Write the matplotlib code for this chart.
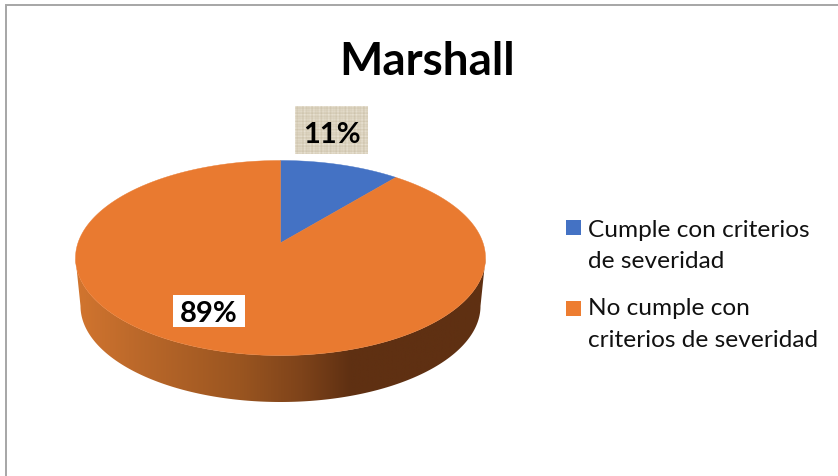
import numpy as np
import matplotlib
matplotlib.use("Agg")
import matplotlib.pyplot as plt
from matplotlib.patches import Polygon, Rectangle
from matplotlib.colors import LinearSegmentedColormap

title = "Marshall"
categories = ["Cumple con criterios\nde severidad", "No cumple con\ncriterios de severidad"]
values = [11, 89]
pct_labels = ["11%", "89%"]
colors = ["#4472C4", "#E97A30"]

W, H = 838, 477
fig = plt.figure(figsize=(W / 100, H / 100), dpi=100)
ax = fig.add_axes([0, 0, 1, 1])
ax.set_xlim(0, W)
ax.set_ylim(H, 0)
ax.axis("off")
FONT = "Lato"

# frame (top + left only are visible in the crop)
ax.plot([5.5, 5.5, W], [H, 5.5, 5.5], color="#A6A6A6", lw=1.4, solid_joinstyle="miter")

# pie geometry in 3-D perspective: unit disc -> ellipse, centre lands on apex
cx, cy, rx, ry = 280.5, 259, 205, 97.5
k = 0.155
def project(theta):
    u, v = np.sin(theta), np.cos(theta)
    d = 1 + k * v
    return cx + rx * u * np.sqrt(1 - k * k) / d, cy - ry * (v + k) / d

# side wall with gradient
depth_rx, depth_cy, depth_ry = 200, 307, 96
t = np.linspace(0, np.pi, 200)
top_x, top_y = cx - rx * np.cos(t), cy + ry * np.sin(t)
bot_x, bot_y = cx + depth_rx * np.cos(t), depth_cy + depth_ry * np.sin(t)
side = Polygon(np.column_stack([np.r_[top_x, bot_x], np.r_[top_y, bot_y]]), closed=True,
               transform=ax.transData, facecolor="none", edgecolor="none")
ax.add_patch(side)
cmap = LinearSegmentedColormap.from_list(
    "side", [(0, "#D2752F"), (0.13, "#BE6A2B"), (0.4, "#9A5520"), (0.55, "#7E431A"),
             (0.67, "#5F3012"), (1, "#5F3012")])
grad = np.linspace(0, 1, 512).reshape(1, -1)
im = ax.imshow(grad, extent=(75, 486, 410, 250), cmap=cmap, aspect="auto", zorder=2)
im.set_clip_path(side)

# top face, wedges derived from the values
fracs = np.array(values, dtype=float) / sum(values)
starts = np.r_[0, np.cumsum(fracs)[:-1]] * 2 * np.pi
apex = (cx, cy - ry * k)
for s, f, c in zip(starts, fracs, colors):
    th = np.linspace(s, s + f * 2 * np.pi, 300)
    x, y = project(th)
    ax.add_patch(Polygon(np.column_stack([np.r_[apex[0], x], np.r_[apex[1], y]]),
                         closed=True, facecolor=c, edgecolor=c, lw=0.3, zorder=3))

# title
ax.text(427.5, 75, title, ha="center", va="baseline", fontsize=33, fontweight="bold",
        family=FONT, color="black", zorder=5)

# data labels; the first box has a woven paper texture
label_boxes = [(295, 107, 73, 48, "#DBD2BE"), (173, 296, 72, 32, "white")]
label_base = [143, 322]
for (bx, by, bw, bh, bc), lab, base in zip(label_boxes, pct_labels, label_base):
    ax.add_patch(Rectangle((bx, by), bw, bh, facecolor=bc, edgecolor="none", zorder=4))
    ax.text(bx + bw / 2, base, lab, ha="center", va="baseline", fontsize=21,
            fontweight="bold", family=FONT, color="black", zorder=6)
gx, gy = np.meshgrid(np.arange(73), np.arange(48))
weave = np.cos(gx * 1.7) * np.cos(gx * 0.37) + np.cos(gy * 1.9) * np.cos(gy * 0.41)
woven = LinearSegmentedColormap.from_list("woven", ["#CDC3AC", "#DBD2BE", "#EAE4D6"])
ax.imshow(weave, extent=(295, 368, 155, 107), cmap=woven, aspect="auto", zorder=4.5,
          interpolation="bilinear")
ax.set_xlim(0, W)
ax.set_ylim(H, 0)

# legend
swatch_y = [221, 302]
line_y = [[237, 268], [315, 347]]
swatch_colors = ["#4472C4", "#ED7D31"]
for sy, lab, c, lines in zip(swatch_y, categories, swatch_colors, line_y):
    ax.add_patch(Rectangle((566, sy), 15, 15, facecolor=c, edgecolor="none", zorder=4))
    for ly, part in zip(lines, lab.split("\n")):
        ax.text(588, ly, part, ha="left", va="baseline", fontsize=17.6, family=FONT,
                color="#111111", zorder=5)

fig.savefig("out.png", dpi=100)
